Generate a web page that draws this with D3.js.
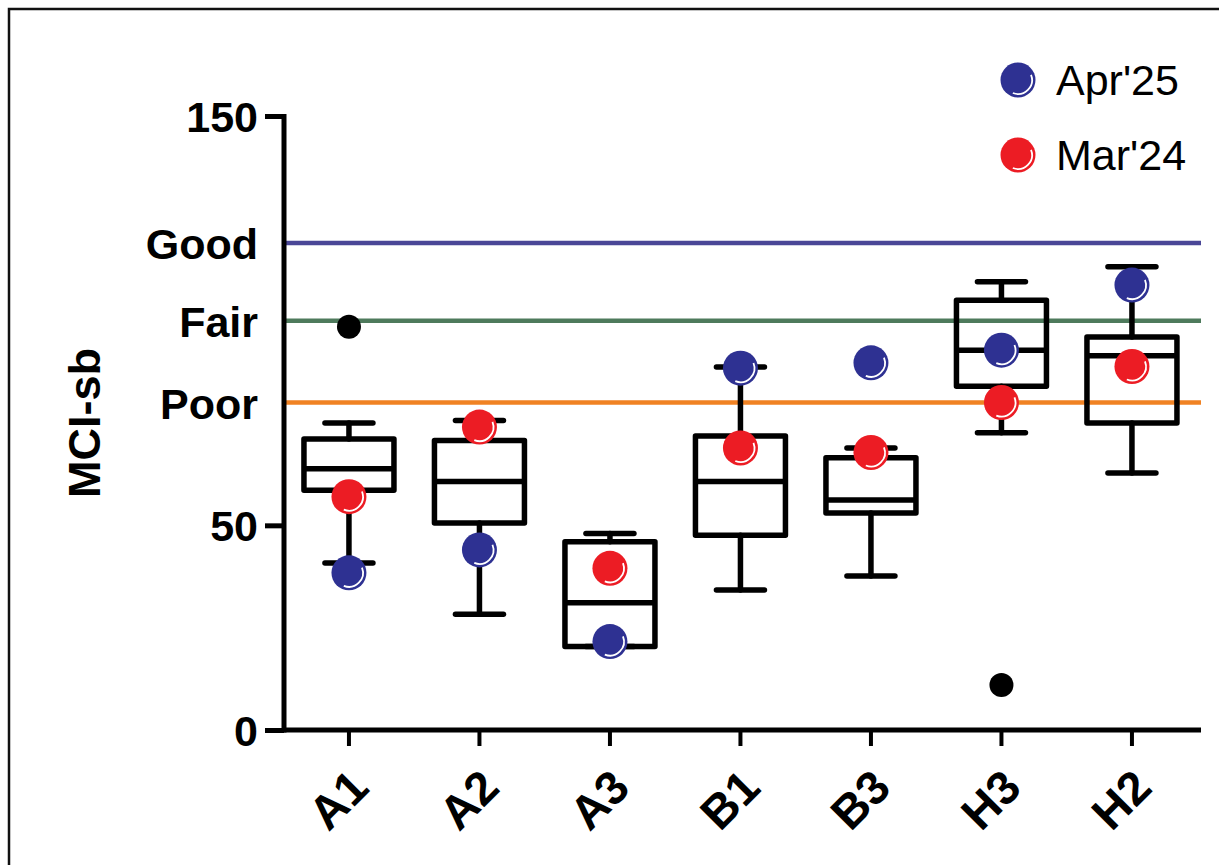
<!DOCTYPE html>
<html>
<head>
<meta charset="utf-8">
<script src="https://cdn.jsdelivr.net/npm/d3@7"></script>
<style>
  html, body { margin: 0; padding: 0; background: #fff; }
  svg { display: block; }
  text { font-family: "Liberation Sans", Arial, sans-serif; }
</style>
</head>
<body>
<script>
// ---------- data ----------
const categories = ["A1", "A2", "A3", "B1", "B3", "H3", "H2"];
const whiskerLow  = [40.8, 28.3, 20.4, 34.2, 37.6, 72.6, 62.8];
const q1          = [58.6, 50.6, 20.4, 47.6, 53.0, 84.0, 75.0];
const median      = [63.8, 60.7, 31.1, 60.7, 56.2, 92.8, 91.4];
const q3          = [71.1, 70.7, 46.0, 71.8, 66.5, 105.0, 96.0];
const whiskerHigh = [75.0, 75.6, 48.0, 88.7, 68.9, 109.5, 113.2];
const apr25       = [38.4, 44.0, 21.6, 88.4, 89.7, 92.8, 108.7];
const mar24       = [57.0, 74.0, 39.5, 68.9, 67.8, 80.0, 88.8];
const outlierCats = ["A1", "H3"];
const outlierVals = [98.5, 11];
const thresholdNames  = ["Good", "Fair", "Poor"];
const thresholdValues = [119, 100, 80];
const thresholdColors = ["#4a4797", "#4e7a5c", "#f08223"];
const yTicks = [0, 50, 150];
const seriesNames  = ["Apr'25", "Mar'24"];
const seriesColors = ["#2e3192", "#ec1c24"];

// ---------- layout ----------
const W = 1219, H = 865;
const svg = d3.select("body").append("svg").attr("width", W).attr("height", H);

// frame
svg.append("rect").attr("x", 9).attr("y", 9).attr("width", W + 20).attr("height", H + 20)
  .attr("fill", "none").attr("stroke", "#111").attr("stroke-width", 2.5);

const x = d3.scaleBand().domain(categories).range([283.7, 1197.2]).padding(0);
const y = d3.scaleLinear().domain([0, 150]).range([730, 116]);
const cx = c => x(c) + x.bandwidth() / 2;

const boxW = 90, capW = 48, sw = 5.5;
const lineEnd = 1201;

// threshold lines
svg.append("g").selectAll("line").data(thresholdValues).join("line")
  .attr("x1", 286).attr("x2", lineEnd)
  .attr("y1", d => y(d)).attr("y2", d => y(d))
  .attr("stroke", (d, i) => thresholdColors[i]).attr("stroke-width", 4.5);

// y axis
const yAxis = svg.append("g").attr("transform", "translate(284,0)")
  .call(d3.axisLeft(y).tickValues(yTicks).tickSize(19).tickPadding(7).tickFormat(d3.format("d")));
yAxis.select(".domain").attr("stroke", "#000").attr("stroke-width", 5)
  .attr("d", `M0,${y(150) - 2}V${y(0) + 2.5}`);
yAxis.selectAll(".tick line").attr("stroke", "#000").attr("stroke-width", 5);
yAxis.selectAll(".tick text").attr("fill", "#000").attr("font-size", 43).attr("font-weight", "bold")
  .attr("dy", "0.36em");

// threshold labels as axis
const tAxis = svg.append("g").attr("transform", "translate(284,0)")
  .call(d3.axisLeft(y).tickValues(thresholdValues).tickSize(0).tickPadding(26)
    .tickFormat((d, i) => thresholdNames[i]));
tAxis.select(".domain").remove();
tAxis.selectAll(".tick text").attr("fill", "#000").attr("font-size", 43).attr("font-weight", "bold")
  .attr("dy", "0.36em");

// x axis
const xAxis = svg.append("g").attr("transform", `translate(0,${y(0)})`)
  .call(d3.axisBottom(x).tickSize(16).tickPadding(10));
xAxis.select(".domain").attr("stroke", "#000").attr("stroke-width", 5)
  .attr("d", `M282,0H${lineEnd}`);
xAxis.selectAll(".tick line").attr("stroke", "#000").attr("stroke-width", 4);
xAxis.selectAll(".tick text").attr("fill", "#000").attr("font-size", 47).attr("font-weight", "bold")
  .attr("text-anchor", "end").attr("x", 0).attr("y", 0).attr("dy", 0)
  .attr("transform", "translate(22,60) rotate(-45)");

// y title
svg.append("text").attr("transform", `translate(100,${y(75)}) rotate(-90)`)
  .attr("text-anchor", "middle").attr("font-size", 45).attr("font-weight", "bold").text("MCI-sb");

// boxes
const boxes = svg.append("g").attr("stroke", "#000").attr("stroke-width", sw).attr("fill", "none")
  .attr("stroke-linecap", "round");
categories.forEach((c, i) => {
  const g = boxes.append("g");
  const X = cx(c);
  g.append("line").attr("x1", X).attr("x2", X).attr("y1", y(q3[i])).attr("y2", y(whiskerHigh[i]));
  g.append("line").attr("x1", X).attr("x2", X).attr("y1", y(q1[i])).attr("y2", y(whiskerLow[i]));
  g.append("line").attr("x1", X - capW / 2).attr("x2", X + capW / 2)
    .attr("y1", y(whiskerHigh[i])).attr("y2", y(whiskerHigh[i]));
  g.append("line").attr("x1", X - capW / 2).attr("x2", X + capW / 2)
    .attr("y1", y(whiskerLow[i])).attr("y2", y(whiskerLow[i]));
  g.append("rect").attr("x", X - boxW / 2).attr("width", boxW)
    .attr("y", y(q3[i])).attr("height", y(q1[i]) - y(q3[i])).attr("stroke-linejoin", "round")
    .attr("stroke-linecap", "butt");
  g.append("line").attr("x1", X - boxW / 2).attr("x2", X + boxW / 2)
    .attr("y1", y(median[i])).attr("y2", y(median[i])).attr("stroke-linecap", "butt");
});

// outliers
svg.append("g").selectAll("circle").data(outlierVals).join("circle")
  .attr("cx", (d, i) => cx(outlierCats[i])).attr("cy", d => y(d)).attr("r", 12).attr("fill", "#000");

// glossy dot
const r = 17.5;
const hl = d3.arc().innerRadius(r - 4.4).outerRadius(r - 2.6).startAngle(Math.PI * 0.38).endAngle(Math.PI * 1.12);
function dot(g, X, Y, color) {
  g.append("circle").attr("cx", X).attr("cy", Y).attr("r", r).attr("fill", color);
  g.append("path").attr("d", hl()).attr("transform", `translate(${X},${Y})`).attr("fill", "#fff");
}
const dots = svg.append("g");
categories.forEach((c, i) => {
  dot(dots, cx(c), y(mar24[i]), seriesColors[1]);
  dot(dots, cx(c), y(apr25[i]), seriesColors[0]);
});

// legend
const legend = svg.append("g");
seriesNames.forEach((s, i) => {
  const Y = 80 + i * 75;
  dot(legend, 1018, Y, seriesColors[i]);
  legend.append("text").attr("x", 1056).attr("y", Y).attr("dy", "0.36em")
    .attr("font-size", 43).attr("fill", "#000").text(s);
});
</script>
</body>
</html>
